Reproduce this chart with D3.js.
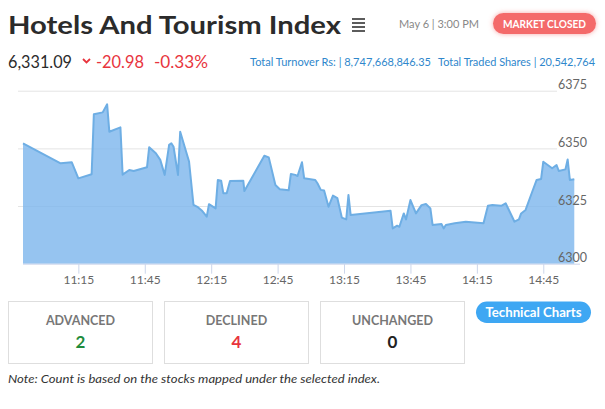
<!DOCTYPE html>
<html>
<head>
<meta charset="utf-8">
<script src="https://cdn.jsdelivr.net/npm/d3@7"></script>
<style>
  html, body { margin: 0; padding: 0; background: #fff; }
  svg { display: block; font-family: Lato, "Noto Sans", sans-serif; }
</style>
</head>
<body>
<svg id="chart" width="605" height="409"></svg>
<script>
// ---------------- data ----------------
const title = "Hotels And Tourism Index";
const dateLabel = "May 6 | 3:00 PM";
const statusLabel = "MARKET CLOSED";
const indexValue = "6,331.09";
const changeValue = "-20.98";
const changePct = "-0.33%";
const turnoverText = "Total Turnover Rs: | 8,747,668,846.35";
const sharesText = "Total Traded Shares | 20,542,764";

const times = ["10:50","11:07","11:12","11:15","11:21","11:22","11:26","11:28","11:29","11:34",
  "11:35","11:38","11:40","11:46","11:47","11:50","11:52","11:54","11:56","11:57",
  "11:58","12:00","12:01","12:05","12:07","12:09","12:11","12:13","12:14","12:17",
  "12:18","12:19:30","12:20:30","12:22","12:23:30","12:29:30","12:30","12:39","12:41","12:44",
  "12:46","12:50","12:51","12:53","12:54","12:56","12:57","13:02","13:03","13:04:30",
  "13:06","13:08","13:10","13:12","13:14","13:16","13:17","13:18","13:36","13:37",
  "13:39","13:40","13:42","13:43","13:45","13:47:30","13:50","13:52","13:54","13:55",
  "13:59","14:00","14:01","14:05","14:10","14:18","14:20","14:22","14:26","14:28",
  "14:32","14:34","14:35","14:37","14:40","14:42","14:44","14:45","14:49","14:51",
  "14:52","14:55","14:56","14:57","14:59"];
const values = [6352.2,6343.5,6344.0,6337.0,6338.8,6364.8,6365.6,6369.1,6357.2,6359.1,
  6338.6,6340.6,6340.2,6341.8,6350.5,6347.9,6345.0,6338.5,6351.5,6352.2,
  6350.7,6338.5,6357.2,6344.3,6325.5,6324.5,6322.8,6320.4,6325.8,6324.0,
  6336.3,6336.0,6330.5,6330.5,6335.9,6336.0,6331.5,6346.8,6346.1,6334.1,
  6332.3,6331.8,6338.9,6338.5,6338.0,6344.0,6337.0,6336.3,6334.9,6332.0,
  6331.7,6324.7,6329.5,6328.4,6320.0,6319.2,6329.8,6321.1,6323.0,6315.3,
  6316.5,6316.0,6321.8,6319.2,6327.6,6321.8,6325.4,6325.9,6324.0,6316.8,
  6317.2,6315.3,6316.8,6317.5,6318.2,6317.5,6325.1,6325.4,6325.1,6326.2,
  6318.2,6319.2,6321.8,6323.3,6331.2,6336.3,6336.7,6344.2,6341.4,6342.8,
  6340.2,6340.9,6345.2,6336.3,6336.6];

const xDomain = ["10:50", "15:00"];
const xTickLabels = ["11:15","11:45","12:15","12:45","13:15","13:45","14:15","14:45"];
const yTicks = [6300, 6325, 6350, 6375];

const countLabels = ["ADVANCED", "DECLINED", "UNCHANGED"];
const countValues = [2, 4, 0];
const countColors = ["#1f8b3b", "#e8343d", "#222222"];
const buttonLabel = "Technical Charts";
const noteText = "Note: Count is based on the stocks mapped under the selected index.";

// ---------------- drawing ----------------
const svg = d3.select("#chart");
const parseT = s => d3.utcParse(s.length > 5 ? "%H:%M:%S" : "%H:%M")(s);

function txt(g, s, x, y, opts) {
  const t = g.append("text").attr("x", x).attr("y", y).text(s)
    .attr("font-size", opts.size).attr("fill", opts.color || "#333")
    .attr("font-weight", opts.weight || "normal")
    .attr("text-anchor", opts.anchor || "start");
  if (opts.style) t.attr("font-style", opts.style);
  if (opts.width) {
    t.attr("textLength", opts.width).attr("lengthAdjust", "spacingAndGlyphs");
  }
  return t;
}

// header
txt(svg, title, 8, 34, {size: 25, weight: "bold", color: "#2b2b2b", width: 333});
const menu = svg.append("g").attr("stroke", "#333").attr("stroke-width", 1.6);
[19, 23, 27, 31].forEach(yy => menu.append("line").attr("x1", 352).attr("x2", 365).attr("y1", yy).attr("y2", yy));
txt(svg, dateLabel, 399, 28, {size: 12, color: "#888", width: 80});

const defs = svg.append("defs");
const f = defs.append("filter").attr("id", "glow").attr("x", "-30%").attr("y", "-60%").attr("width", "160%").attr("height", "220%");
f.append("feGaussianBlur").attr("in", "SourceAlpha").attr("stdDeviation", 2.5).attr("result", "b");
f.append("feFlood").attr("flood-color", "#f46a6a").attr("flood-opacity", 0.6);
f.append("feComposite").attr("in2", "b").attr("operator", "in").attr("result", "s");
const fm = f.append("feMerge");
fm.append("feMergeNode").attr("in", "s");
fm.append("feMergeNode").attr("in", "SourceGraphic");
svg.append("rect").attr("x", 493).attr("y", 13).attr("width", 103).attr("height", 21).attr("rx", 10.5)
  .attr("fill", "#f46b6b").attr("filter", "url(#glow)");
txt(svg, statusLabel, 544.5, 28, {size: 11.5, weight: "bold", color: "#fff", anchor: "middle", width: 83});

txt(svg, indexValue, 8, 68, {size: 17, color: "#2b2b2b", width: 64});
svg.append("path").attr("d", "M83,59 L86.5,62.5 L90,59").attr("fill", "none").attr("stroke", "#e8343d").attr("stroke-width", 1.8);
txt(svg, changeValue, 96, 68, {size: 17, color: "#e8343d", width: 48});
txt(svg, changePct, 154, 68, {size: 17, color: "#e8343d", width: 54});
txt(svg, turnoverText, 250, 66, {size: 11, color: "#2f87cc", width: 181});
txt(svg, sharesText, 438, 66, {size: 11, color: "#2f87cc", width: 157});

// chart
const x = d3.scaleUtc().domain(xDomain.map(parseT)).range([23, 576.5]);
const y = d3.scaleLinear().domain([6300, 6375]).range([263.7, 90.7]);
const data = times.map((t, i) => ({t: parseT(t), v: values[i]}));

// gridlines
const grid = svg.append("g").attr("transform", "translate(18,0)")
  .call(d3.axisRight(y).tickValues(yTicks.filter(v => v !== 6300)).tickSize(539).tickFormat(""));
grid.select(".domain").remove();
grid.selectAll("line").attr("stroke", "#e4e4e4");

// area
const area = d3.area().x(d => x(d.t)).y0(y(6300)).y1(d => y(d.v));
const line = d3.line().x(d => x(d.t)).y(d => y(d.v));
svg.append("path").datum(data).attr("d", area).attr("fill", "#7cb5ec").attr("fill-opacity", 0.8);
svg.append("path").datum(data).attr("d", line).attr("fill", "none")
  .attr("stroke", "#6eaee4").attr("stroke-width", 2).attr("stroke-linejoin", "round");

// x axis
const xa = svg.append("g").attr("transform", `translate(0,${y(6300)})`)
  .call(d3.axisBottom(x).tickValues(xTickLabels.map(parseT)).tickFormat(d3.utcFormat("%H:%M"))
    .tickSize(10).tickSizeOuter(0).tickPadding(2));
xa.select(".domain").attr("stroke", "#ccd6eb").attr("d", `M23,0.5H580`);
xa.selectAll("line").attr("stroke", "#ccd6eb");
xa.selectAll("text").attr("fill", "#666").attr("font-size", 12).attr("font-family", "Lato, sans-serif");

// y axis labels (right, above gridlines)
const ya = svg.append("g").attr("transform", "translate(587,0)")
  .call(d3.axisLeft(y).tickValues(yTicks).tickSize(0).tickPadding(0).tickFormat(d3.format("d")));
ya.select(".domain").remove();
ya.selectAll("text").attr("dy", null).attr("y", -2).attr("fill", "#666")
  .attr("font-size", 12.5).attr("font-family", "Lato, sans-serif");

// counts
const boxX = [8.5, 164.5, 320.5];
countLabels.forEach((lab, i) => {
  const g = svg.append("g");
  g.append("rect").attr("x", boxX[i]).attr("y", 301.5).attr("width", 144).attr("height", 62)
    .attr("fill", "#fff").attr("stroke", "#dedede");
  txt(g, lab, boxX[i] + 72, 324.5, {size: 12.5, weight: "bold", color: "#777", anchor: "middle"});
  txt(g, String(countValues[i]), boxX[i] + 72, 347.5, {size: 17, weight: "bold", color: countColors[i], anchor: "middle"});
});
svg.append("rect").attr("x", 476).attr("y", 301.5).attr("width", 115).attr("height", 21.5).attr("rx", 10.75).attr("fill", "#3ea7f3");
txt(svg, buttonLabel, 533.5, 316.5, {size: 13, weight: "bold", color: "#fff", anchor: "middle", width: 96});
txt(svg, noteText, 8, 383, {size: 12, style: "italic", color: "#333", width: 372});
</script>
</body>
</html>
